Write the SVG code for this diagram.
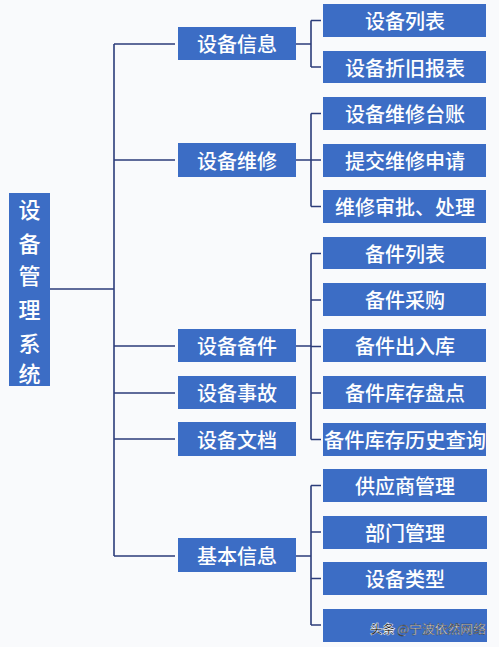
<svg xmlns="http://www.w3.org/2000/svg" width="499" height="647" viewBox="0 0 499 647">
<style>
.box{fill:#3c6dc5}
.t{fill:#ffffff;font-family:"Noto Sans CJK SC","Noto Sans CJK JP",sans-serif;font-size:20px;font-weight:500;text-anchor:middle;dominant-baseline:central}
.rt{font-family:"Noto Sans CJK SC","Noto Sans CJK JP",sans-serif;font-size:22px;font-weight:500;fill:#ffffff;text-anchor:middle;dominant-baseline:central}
.ln{fill:none;stroke:#2c3d7a;stroke-width:1.6}
.wm{font-family:"Noto Sans CJK SC","Noto Sans CJK JP",sans-serif;font-size:12.5px}
</style>
<rect width="499" height="647" fill="#f9fafc"/>
<g id="connectors" class="ln">
<path d="M50 289H114M114 44V556M114 44H175M114 160H175M114 346H175M114 393H175M114 439H175M114 556H175"/>
<path d="M296 44H311M311 20.5V67M311 20.5H321M311 67H321"/>
<path d="M296 160H311M311 113.5V206.5M311 113.5H321M311 160H321M311 206.5H321"/>
<path d="M296 346H311M311 253.5V439.5M311 253.5H321M311 300H321M311 346.5H321M311 393H321M311 439.5H321"/>
<path d="M296 556H311M311 485.5V625M311 485.5H321M311 532H321M311 578.5H321M311 625H321"/>
</g>
<g id="root">
<rect class="box" x="9" y="193" width="41" height="193"/>
<text class="rt" x="29.5" y="208">设</text>
<text class="rt" x="29.5" y="242">备</text>
<text class="rt" x="29.5" y="274">管</text>
<text class="rt" x="29.5" y="308">理</text>
<text class="rt" x="29.5" y="342">系</text>
<text class="rt" x="29.5" y="372">统</text>
</g>
<g id="m1"><rect class="box" x="178" y="27" width="118" height="33"/><text class="t" x="237" y="43.5">设备信息</text></g>
<g id="m2"><rect class="box" x="178" y="143" width="118" height="34"/><text class="t" x="237" y="160">设备维修</text></g>
<g id="m3"><rect class="box" x="178" y="329" width="118" height="33"/><text class="t" x="237" y="345.5">设备备件</text></g>
<g id="m4"><rect class="box" x="178" y="376" width="118" height="33"/><text class="t" x="237" y="392.5">设备事故</text></g>
<g id="m5"><rect class="box" x="178" y="422" width="118" height="34"/><text class="t" x="237" y="439">设备文档</text></g>
<g id="m6"><rect class="box" x="178" y="538" width="118" height="34"/><text class="t" x="237" y="555">基本信息</text></g>
<g id="r1"><rect class="box" x="323" y="4" width="163" height="33"/><text class="t" x="405" y="20.5">设备列表</text></g>
<g id="r2"><rect class="box" x="323" y="51" width="163" height="32"/><text class="t" x="405" y="67">设备折旧报表</text></g>
<g id="r3"><rect class="box" x="323" y="97" width="163" height="33"/><text class="t" x="405" y="113.5">设备维修台账</text></g>
<g id="r4"><rect class="box" x="323" y="144" width="163" height="33"/><text class="t" x="405" y="160.5">提交维修申请</text></g>
<g id="r5"><rect class="box" x="323" y="190" width="163" height="33"/><text class="t" x="405" y="206.5">维修审批、处理</text></g>
<g id="r6"><rect class="box" x="323" y="237" width="163" height="32"/><text class="t" x="405" y="253">备件列表</text></g>
<g id="r7"><rect class="box" x="323" y="283" width="163" height="33"/><text class="t" x="405" y="299.5">备件采购</text></g>
<g id="r8"><rect class="box" x="323" y="329" width="163" height="33"/><text class="t" x="405" y="345.5">备件出入库</text></g>
<g id="r9"><rect class="box" x="323" y="376" width="163" height="33"/><text class="t" x="405" y="392.5">备件库存盘点</text></g>
<g id="r10"><rect class="box" x="323" y="423" width="163" height="33"/><text class="t" x="405" y="439.5" textLength="162" lengthAdjust="spacingAndGlyphs">备件库存历史查询</text></g>
<g id="r11"><rect class="box" x="323" y="469" width="164" height="33"/><text class="t" x="405" y="485.5">供应商管理</text></g>
<g id="r12"><rect class="box" x="323" y="516" width="164" height="33"/><text class="t" x="405" y="532.5">部门管理</text></g>
<g id="r13"><rect class="box" x="323" y="562" width="164" height="33"/><text class="t" x="405" y="578.5">设备类型</text></g>
<g id="r14"><rect class="box" x="323" y="609" width="164" height="33"/>
<text class="wm" x="370" y="634" font-weight="bold" fill="#1a1a1a" stroke="#ffffff" stroke-width="0.5">头条</text>
<text class="wm" x="397" y="634" textLength="89" lengthAdjust="spacingAndGlyphs" fill="#ffffff" stroke="#333333" stroke-width="0.4">@宁波依然网络</text>
</g>
</svg>
